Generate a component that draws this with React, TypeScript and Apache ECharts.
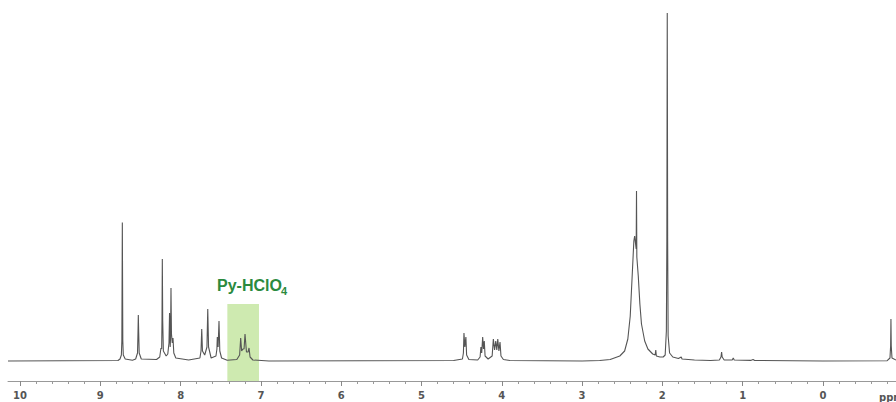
import React, { useEffect, useRef } from "react";
import * as echarts from "echarts";

// 1H NMR trace, [chemical shift (ppm), intensity (a.u.)], high field to the right
const aromaticRegion: [number, number][] = [
  [10.15, 0], [8.78, 0.5], [8.755, 2], [8.738, 6], [8.732, 20], [8.726, 138.5],
  [8.72, 20], [8.714, 6], [8.69, 2], [8.6, 0.8], [8.56, 2], [8.537, 8],
  [8.531, 28], [8.527, 46], [8.522, 28], [8.516, 8], [8.49, 2], [8.3, 1.5],
  [8.26, 4], [8.245, 13], [8.236, 12], [8.232, 40], [8.228, 102], [8.223, 40],
  [8.215, 10], [8.18, 5], [8.16, 7], [8.145, 18], [8.138, 48], [8.13, 14],
  [8.126, 22], [8.12, 73], [8.114, 27], [8.104, 18], [8.095, 23], [8.085, 8],
  [8.06, 3], [7.9, 1], [7.76, 3], [7.746, 10], [7.737, 32], [7.728, 10],
  [7.7, 6], [7.672, 14], [7.662, 52], [7.652, 14], [7.62, 3], [7.56, 5],
  [7.548, 12], [7.543, 24], [7.533, 14], [7.522, 40], [7.512, 10], [7.49, 3],
  [7.42, 0.8],
];

const pyridiniumRegion: [number, number][] = [
  [7.3, 1.5], [7.265, 6], [7.252, 23], [7.24, 10], [7.225, 12], [7.21, 12],
  [7.198, 27], [7.18, 9], [7.16, 9], [7.148, 13], [7.135, 4], [7.1, 1], [6.9, 0],
];

const methyleneRegion: [number, number][] = [
  [4.6, 0.5], [4.49, 2], [4.478, 8], [4.471, 28], [4.46, 14], [4.447, 24],
  [4.438, 6], [4.41, 1.5], [4.3, 1], [4.27, 4], [4.26, 14], [4.25, 8],
  [4.238, 24], [4.228, 12], [4.218, 20], [4.208, 5], [4.17, 2], [4.12, 5],
  [4.105, 22], [4.09, 11], [4.075, 20], [4.062, 11], [4.05, 22], [4.036, 10],
  [4.022, 19], [4.01, 5], [3.98, 1.5], [3.9, 0.5],
];

const solventRegion: [number, number][] = [
  [3.0, 0], [2.78, 0.5], [2.65, 1.5], [2.53, 5], [2.47, 10], [2.43, 22],
  [2.4, 45], [2.37, 95], [2.355, 120], [2.345, 125], [2.335, 118], [2.326, 112],
  [2.322, 170], [2.318, 104], [2.3, 85], [2.28, 57], [2.26, 37], [2.22, 20],
  [2.18, 12], [2.12, 7], [2.09, 6], [2.082, 11], [2.075, 5], [2.03, 4],
  [1.99, 4], [1.965, 6], [1.95, 30], [1.944, 120], [1.939, 348], [1.934, 120],
  [1.928, 25], [1.91, 8], [1.87, 4], [1.8, 2.5], [1.765, 4], [1.755, 2],
];

const upfieldRegion: [number, number][] = [
  [1.6, 1], [1.4, 0.5], [1.29, 1], [1.27, 4], [1.262, 9], [1.255, 4],
  [1.23, 1], [1.13, 1], [1.117, 3], [1.105, 1], [0.9, 0.6], [0.87, 1.5],
  [0.85, 0.5], [0.0, 0], [-0.8, 0.3], [-0.835, 3], [-0.843, 15], [-0.847, 42],
  [-0.851, 15], [-0.86, 3], [-0.91, 1],
];

const majorTicks: number[] = [0, 1, 2, 3, 4, 5, 6, 7, 8, 9, 10];
const highlightRange: [number, number] = [7.418, 7.024];
const highlightTop = 57;
const highlightLabel = "Py-HClO";
const highlightSub = "4";
const unitLabel = "ppm";

const X_MIN = -0.91;
const X_MAX = 10.15;
const Y_MIN = -20;

export default function App() {
  const ref = useRef<HTMLDivElement>(null);

  useEffect(() => {
    if (!ref.current) return;
    const chart = echarts.init(ref.current, undefined, { renderer: "svg" });

    const spectrum = [
      ...aromaticRegion,
      ...pyridiniumRegion,
      ...methyleneRegion,
      ...solventRegion,
      ...upfieldRegion,
    ];

    const minorTicks: number[] = [];
    for (let i = -4; i <= 50; i++) {
      if (i % 5 !== 0) minorTicks.push(+(i * 0.2).toFixed(1));
    }

    const tickFont = {
      fontFamily: "DejaVu Sans",
      fontWeight: "bold" as const,
      fontSize: 10,
      color: "#555",
    };

    chart.setOption({
      animation: false,
      backgroundColor: "#fff",
      grid: { left: 8, right: 0, top: 0, bottom: 21 },
      xAxis: [
        {
          type: "value",
          inverse: true,
          min: X_MIN,
          max: X_MAX,
          position: "bottom",
          splitLine: { show: false },
          axisLine: { show: true, onZero: false, lineStyle: { color: "#999", width: 1 } },
          axisTick: {
            show: true,
            customValues: majorTicks,
            length: 5,
            lineStyle: { color: "#888" },
          },
          axisLabel: {
            show: true,
            customValues: majorTicks,
            margin: 9,
            ...tickFont,
          },
        },
        {
          type: "value",
          inverse: true,
          min: X_MIN,
          max: X_MAX,
          position: "bottom",
          splitLine: { show: false },
          axisLine: { show: false, onZero: false },
          axisLabel: { show: false },
          axisTick: {
            show: true,
            customValues: minorTicks,
            length: 3,
            lineStyle: { color: "#999" },
          },
        },
      ],
      yAxis: {
        type: "value",
        min: Y_MIN,
        max: 361,
        show: false,
        splitLine: { show: false },
      },
      series: [
        {
          type: "line",
          data: spectrum,
          showSymbol: false,
          symbol: "none",
          lineStyle: { color: "#555", width: 1.1 },
          markArea: {
            silent: true,
            itemStyle: { color: "rgba(146,208,80,0.45)" },
            data: [
              [
                { xAxis: highlightRange[0], yAxis: highlightTop },
                { xAxis: highlightRange[1], yAxis: Y_MIN },
              ],
            ],
          },
        },
      ],
      graphic: [
        {
          type: "text",
          x: 217,
          y: 285,
          style: {
            text: highlightLabel,
            font: "bold 16px 'Liberation Sans', Arial, sans-serif",
            fill: "#2b8a3e",
            verticalAlign: "middle",
            align: "left",
          },
        },
        {
          type: "text",
          x: 281,
          y: 291,
          style: {
            text: highlightSub,
            font: "bold 11px 'Liberation Sans', Arial, sans-serif",
            fill: "#2b8a3e",
            verticalAlign: "middle",
            align: "left",
          },
        },
        {
          type: "text",
          x: 879,
          y: 397,
          style: {
            text: unitLabel,
            font: "bold 10px 'DejaVu Sans'",
            fill: "#555",
            verticalAlign: "middle",
            align: "left",
          },
        },
      ],
    });

    return () => chart.dispose();
  }, []);

  return (
    <div
      ref={ref}
      style={{ position: "fixed", left: 0, top: 0, width: 896, height: 402 }}
    />
  );
}
